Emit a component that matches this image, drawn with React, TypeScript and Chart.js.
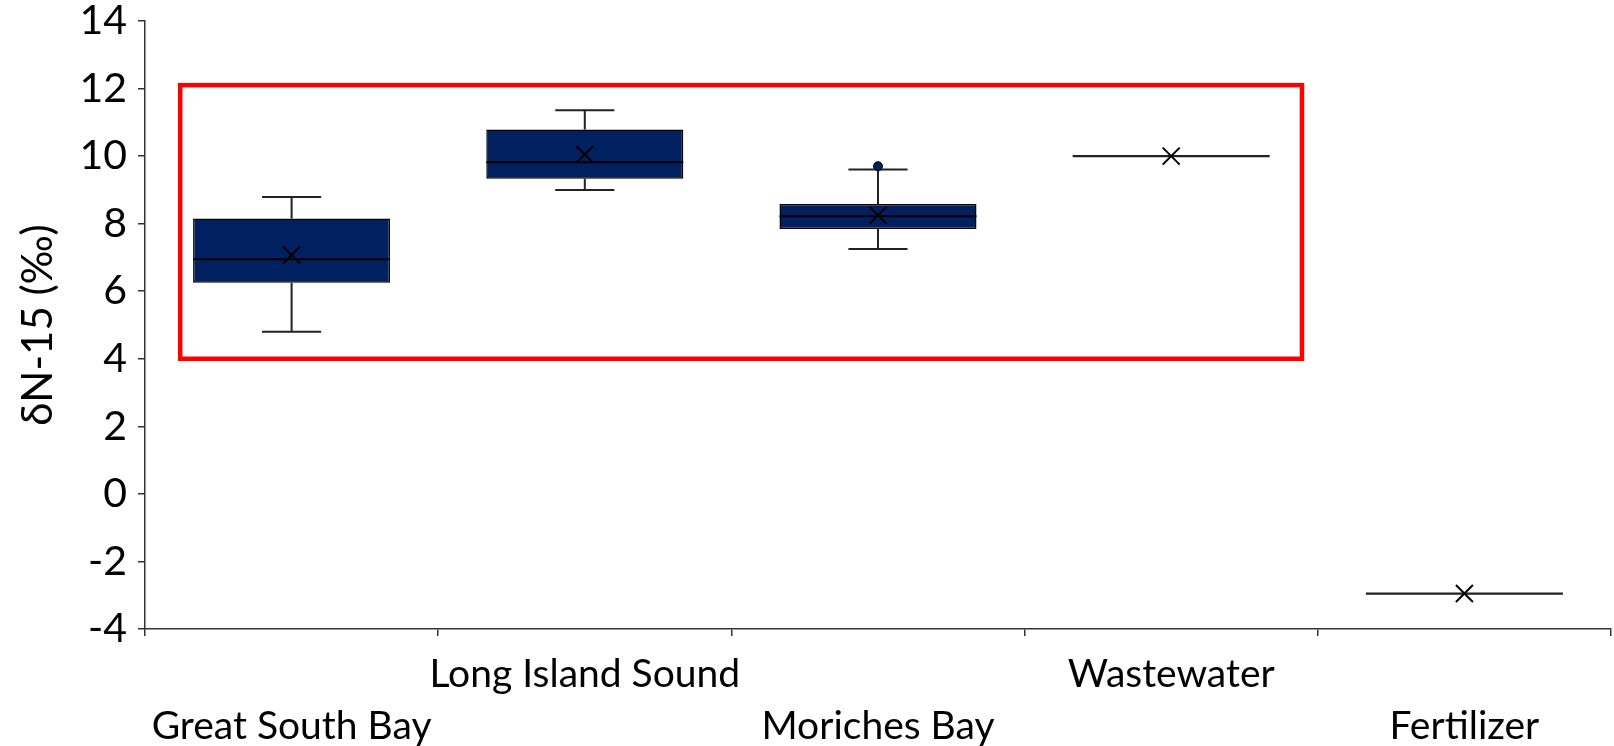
import React, { useEffect, useRef } from "react";
import { Chart, registerables } from "chart.js";

Chart.register(...registerables);

// ---- Data ----
const categories = ["Great South Bay", "Long Island Sound", "Moriches Bay", "Wastewater", "Fertilizer"];
const whiskerMin = [4.8, 9.0, 7.25, 10, -2.95];
const q1 = [6.25, 9.33, 7.84, 10, -2.95];
const median = [6.95, 9.82, 8.22, 10, -2.95];
const q3 = [8.15, 10.79, 8.58, 10, -2.95];
const whiskerMax = [8.79, 11.36, 9.6, 10, -2.95];
const means = [7.07, 10.05, 8.25, 10, -2.95];
const outliers = [null, null, 9.7, null, null];
const yTicks = { min: -4, max: 14, step: 2 };
// Highlight rectangle annotation (in data units: category index / δN-15 value)
const highlight = { xMin: -0.38, xMax: 3.446, yMin: 4, yMax: 12.1 };

// ---- Styles ----
const BOX_FILL = "#002060";
const LINE_DARK = "#222222";
const AXIS_COLOR = "#333333";
const BOX_FRACTION = 0.672;
const CAP_FRACTION = 0.3;
const FONT = "Lato";

const boxPlotPlugin = {
  id: "boxPlotExtras",
  beforeDatasetsDraw(chart: any) {
    const xs = chart.scales.x;
    const ys = chart.scales.y;
    const ctx = chart.ctx;
    const catW = xs.getPixelForValue(1) - xs.getPixelForValue(0);
    const capHalf = (catW * BOX_FRACTION * CAP_FRACTION) / 2;
    ctx.save();
    ctx.strokeStyle = LINE_DARK;
    ctx.lineWidth = 2;
    categories.forEach((_, i) => {
      if (whiskerMax[i] === whiskerMin[i]) return;
      const cx = xs.getPixelForValue(i);
      const yTop = ys.getPixelForValue(whiskerMax[i]);
      const yQ3 = ys.getPixelForValue(q3[i]);
      const yQ1 = ys.getPixelForValue(q1[i]);
      const yBot = ys.getPixelForValue(whiskerMin[i]);
      ctx.beginPath();
      ctx.moveTo(cx, yQ3);
      ctx.lineTo(cx, yTop);
      ctx.moveTo(cx - capHalf, yTop);
      ctx.lineTo(cx + capHalf, yTop);
      ctx.moveTo(cx, yQ1);
      ctx.lineTo(cx, yBot);
      ctx.moveTo(cx - capHalf, yBot);
      ctx.lineTo(cx + capHalf, yBot);
      ctx.stroke();
    });
    ctx.restore();
  },
  afterDatasetDraw(chart: any, args: any) {
    if (args.meta.type !== "bar") return;
    const xs = chart.scales.x;
    const ys = chart.scales.y;
    const ctx = chart.ctx;
    const catW = xs.getPixelForValue(1) - xs.getPixelForValue(0);
    const half = (catW * BOX_FRACTION) / 2;
    ctx.save();
    categories.forEach((_, i) => {
      const cx = xs.getPixelForValue(i);
      const ym = ys.getPixelForValue(median[i]);
      const single = q1[i] === q3[i];
      ctx.strokeStyle = single ? LINE_DARK : "#000000";
      ctx.lineWidth = single ? 2.3 : 2;
      ctx.beginPath();
      ctx.moveTo(cx - half, ym);
      ctx.lineTo(cx + half, ym);
      ctx.stroke();
    });
    ctx.restore();
  },
  afterDraw(chart: any) {
    const xs = chart.scales.x;
    const ys = chart.scales.y;
    const ctx = chart.ctx;
    const x0 = xs.getPixelForValue(highlight.xMin);
    const x1 = xs.getPixelForValue(highlight.xMax);
    const y0 = ys.getPixelForValue(highlight.yMax);
    const y1 = ys.getPixelForValue(highlight.yMin);
    ctx.save();
    ctx.strokeStyle = "#FF0000";
    ctx.lineWidth = 4.5;
    ctx.lineJoin = "miter";
    ctx.strokeRect(x0, y0, x1 - x0, y1 - y0);
    ctx.restore();
  },
};

export default function App() {
  const canvasRef = useRef<HTMLCanvasElement | null>(null);

  useEffect(() => {
    document.body.style.margin = "0";
    const canvas = canvasRef.current;
    if (!canvas) return;
    const labels = categories.map((c, i) => (i % 2 === 0 ? ["", c] : [c]));
    const chart = new Chart(canvas, {
      type: "bar",
      data: {
        labels,
        datasets: [
          {
            type: "line",
            label: "Mean",
            data: means,
            showLine: false,
            pointStyle: "crossRot",
            pointRadius: 12,
            pointBorderWidth: 2,
            pointBorderColor: "#000000",
            pointBackgroundColor: "#000000",
            order: 0,
          } as any,
          {
            type: "line",
            label: "Outlier",
            data: outliers,
            showLine: false,
            pointStyle: "circle",
            pointRadius: 4.5,
            pointBorderWidth: 1,
            pointBorderColor: "#000000",
            pointBackgroundColor: BOX_FILL,
            order: 1,
          } as any,
          {
            type: "bar",
            label: "Box",
            data: categories.map((_, i) => [q1[i], q3[i]]),
            backgroundColor: BOX_FILL,
            borderColor: "#000000",
            borderWidth: 1.5,
            borderSkipped: false,
            barPercentage: BOX_FRACTION,
            categoryPercentage: 1,
            order: 2,
          } as any,
        ],
      },
      options: {
        animation: false,
        responsive: false,
        devicePixelRatio: 1,
        events: [],
        layout: { autoPadding: false, padding: { top: 21, right: 3, left: 0, bottom: 0 } },
        plugins: {
          legend: { display: false },
          tooltip: { enabled: false },
          title: { display: false },
        },
        scales: {
          x: {
            type: "category",
            offset: true,
            grid: {
              display: true,
              drawOnChartArea: false,
              drawTicks: true,
              tickLength: 7,
              offset: true,
              color: AXIS_COLOR,
              lineWidth: 1.5,
            },
            border: { display: true, color: AXIS_COLOR, width: 1.5 },
            ticks: {
              color: "#000000",
              maxRotation: 0,
              minRotation: 0,
              autoSkip: false,
              padding: 12,
              font: { family: FONT, size: 39, lineHeight: 1.333 },
            },
            afterFit: (scale: any) => {
              scale.height = 117;
              scale.paddingLeft = 0;
              scale.paddingRight = 0;
            },
          },
          y: {
            type: "linear",
            min: yTicks.min,
            max: yTicks.max,
            grid: {
              display: true,
              drawOnChartArea: false,
              drawTicks: true,
              tickLength: 7,
              color: AXIS_COLOR,
              lineWidth: 1.5,
            },
            border: { display: true, color: AXIS_COLOR, width: 1.5 },
            ticks: {
              stepSize: yTicks.step,
              color: "#000000",
              padding: 11,
              font: { family: FONT, size: 41, lineHeight: 1.0 },
            },
            title: {
              display: true,
              text: "δN-15 (‰)",
              color: "#000000",
              padding: { top: 13, bottom: 0 },
              font: { family: FONT, size: 42, lineHeight: 1.2 },
            },
            afterFit: (scale: any) => {
              scale.width = 145;
              scale.paddingTop = 0;
              scale.paddingBottom = 0;
            },
          },
        },
      },
      plugins: [boxPlotPlugin],
    });
    return () => chart.destroy();
  }, []);

  return (
    <div style={{ width: 1614, height: 746 }}>
      <canvas ref={canvasRef} width={1614} height={746} style={{ display: "block", width: 1614, height: 746 }} />
    </div>
  );
}
